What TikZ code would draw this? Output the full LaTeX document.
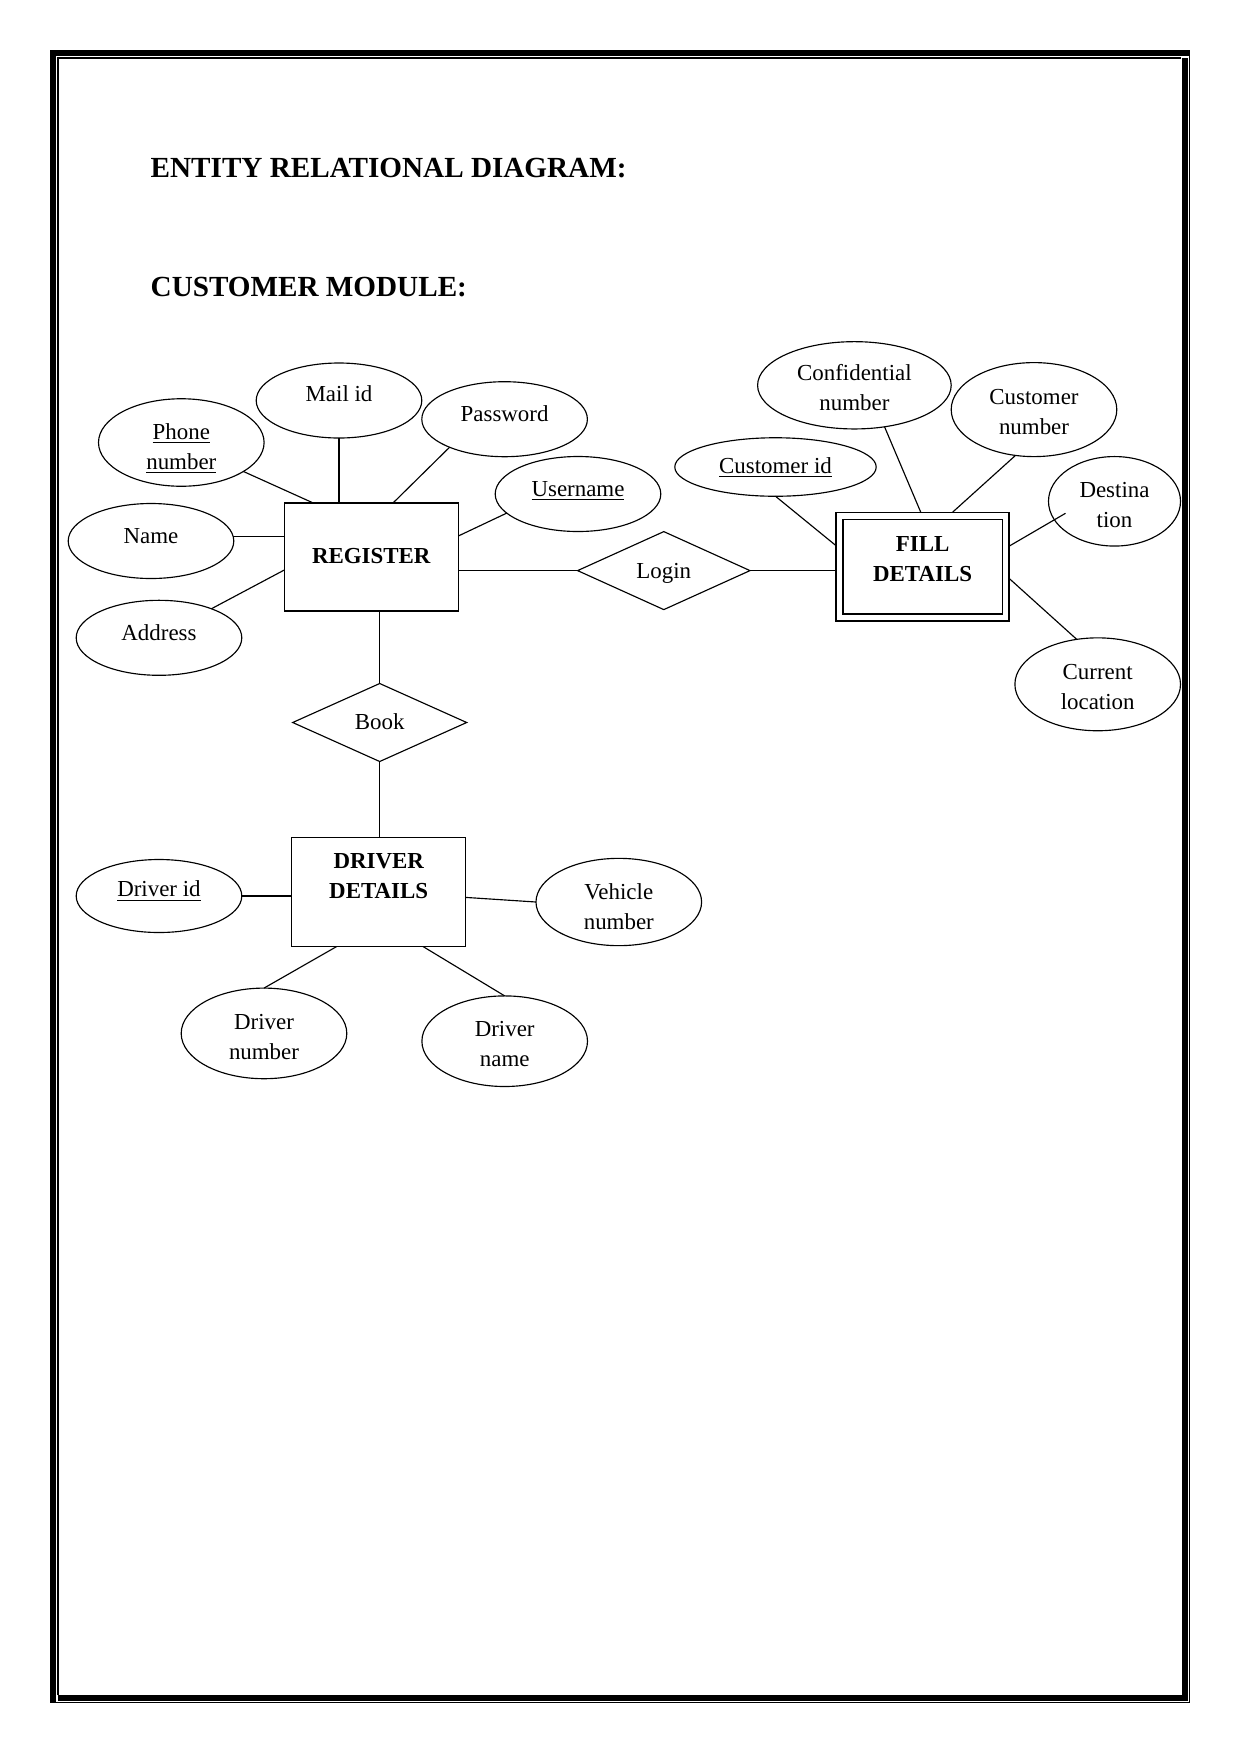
\documentclass[tikz,border=0pt]{standalone}
\usepackage{fontspec}
\setmainfont{Liberation Serif}
\usetikzlibrary{shapes.geometric,calc}
\newcommand\tx[2]{\raisebox{#1}[\height][\depth]{\begin{tabular}{@{}c@{}}#2\end{tabular}}}
\begin{document}
\begin{tikzpicture}[x=0.48pt,y=-0.48pt,
  every node/.style={inner sep=0pt,outer sep=0pt,font=\fontsize{11}{14.4}\selectfont},
  attr/.style n args={2}{ellipse,draw,line width=0.55pt,minimum width={#1*0.48pt},minimum height={#2*0.48pt}},
  ent/.style n args={2}{rectangle,draw,line width=0.6pt,minimum width={#1*0.48pt},minimum height={#2*0.48pt},font=\fontsize{11}{14.4}\selectfont\bfseries},
  rel/.style n args={2}{diamond,draw,aspect=2.2,line width=0.55pt,minimum width={#1*0.48pt},minimum height={#2*0.48pt}},
  conn/.style={line width=0.55pt},
  title/.style={anchor=base west,font=\fontsize{14}{16.8}\selectfont\bfseries},
  thinb/.style={line width=0.6pt}]
\useasboundingbox (0,0) rectangle (1241,1754);
\fill[white] (0,0) rectangle (1241,1754);
% page border
\fill[black] (50,50) rectangle (1190,56);
\fill[black] (50,50) rectangle (56,1703);
\fill[black] (1182,58) rectangle (1188,1701);
\fill[black] (58,1695) rectangle (1188,1701);
\draw[thinb] (58,1695) -- (58,58) -- (1181,58);
\draw[thinb] (56,1702.5) -- (1189.5,1702.5) -- (1189.5,56);
% titles
\node[title] (t1) at (150.7,177) {ENTITY RELATIONAL DIAGRAM:};
\node[title] (t2) at (150.7,296) {CUSTOMER MODULE:};
% register side
\node[attr={165.6}{87.5}] (phone) at (181.3,442.5) {\tx{-3pt}{\underline{Phone}\\\underline{number}}};
\node[attr={165.6}{75}] (mail) at (339,400.5) {\tx{2.5pt}{Mail id}};
\node[attr={165.6}{75}] (pass) at (504.6,419.2) {\tx{2pt}{Password}};
\node[attr={165.6}{75}] (user) at (578,494) {\tx{1.8pt}{\underline{Username}}};
\node[attr={165.6}{75}] (nm) at (151,541) {\tx{1.8pt}{Name}};
\node[attr={165.6}{75}] (addr) at (159,637.8) {\tx{1.8pt}{Address}};
\node[ent={174}{108}] (reg) at (371.3,557) {\tx{-0.2pt}{REGISTER}};
\node[rel={172.4}{78}] (login) at (663.8,570.6) {\tx{-1.1pt}{Login}};
\node[rel={174}{78}] (book) at (379.7,722.5) {\tx{-0.3pt}{Book}};
% driver side
\node[ent={174}{109}] (drv) at (378.7,892) {\tx{7.1pt}{DRIVER\\DETAILS}};
\node[attr={165.6}{73}] (did) at (159,896) {\tx{2.5pt}{\underline{Driver id}}};
\node[attr={165.6}{87.3}] (veh) at (618.8,902) {\tx{-3pt}{Vehicle\\number}};
\node[attr={165.6}{90.6}] (dnum) at (264,1033.4) {\tx{-2.5pt}{Driver\\number}};
\node[attr={165.6}{90.6}] (dname) at (504.7,1041.2) {\tx{-2.1pt}{Driver\\name}};
% fill details side
\node[attr={193.6}{87.3}] (conf) at (854.4,385.3) {\tx{-2.1pt}{Confidential\\number}};
\node[attr={165.6}{94}] (cnum) at (1034,409.6) {\tx{-1.9pt}{Customer\\number}};
\node[attr={201.4}{58.5}] (cid) at (775.5,467) {\tx{0pt}{\underline{Customer id}}};
\node[attr={132}{89.5}] (dest) at (1114.5,501.3) {\tx{-2.5pt}{Destina\\tion}};
\node[ent={173.4}{108.5},line width=0.9pt] (fd) at (922.6,566.8) {\tx{3.2pt}{FILL\\DETAILS}};
\draw[line width=0.6pt] ($(fd.north west)+(7,7)$) rectangle ($(fd.south east)+(-7,-7)$);
\node[attr={165.6}{92.9}] (cur) at (1097.7,684.3) {\tx{-2.1pt}{Current\\location}};
\coordinate (destin) at ($(dest.center)+(-49,12)$);
% connectors
\draw[conn] (phone.-25) -- ($(reg.north west)+(29,0)$);
\draw[conn] (mail.south) -- (mail.south |- reg.north);
\draw[conn] (pass.-153) -- ($(reg.north west)+(108.7,0)$);
\draw[conn] (user.195) -- ($(reg.north east)+(0,33)$);
\draw[conn] (nm.3) -- (nm.3 -| reg.west);
\draw[conn] (addr.29) -- ($(reg.north west)+(0,67)$);
\draw[conn] (login.west) -- (login.west -| reg.east);
\draw[conn] (login.east) -- (login.east -| fd.west);
\draw[conn] (book.north) -- (book.north |- reg.south);
\draw[conn] (book.south) -- (book.south |- drv.north);
\draw[conn] (did.east) -- (did.east -| drv.west);
\draw[conn] ($(drv.east)+(0,5.4)$) -- (veh.west);
\draw[conn] ($(drv.south west)+(45,0)$) -- (dnum.north);
\draw[conn] ($(drv.south west)+(131.3,0)$) -- (dname.north);
\draw[conn] (cid.south) -- ($(fd.north west)+(0,33)$);
\draw[conn] (conf.-54) -- ($(fd.north west)+(85,0)$);
\draw[conn] (cnum.-112) -- ($(fd.north west)+(116.3,0)$);
\draw[conn] ($(fd.north east)+(0,33.5)$) -- (destin);
\draw[conn] ($(fd.north east)+(0,66)$) -- (cur.115.6);
\end{tikzpicture}
\end{document}
